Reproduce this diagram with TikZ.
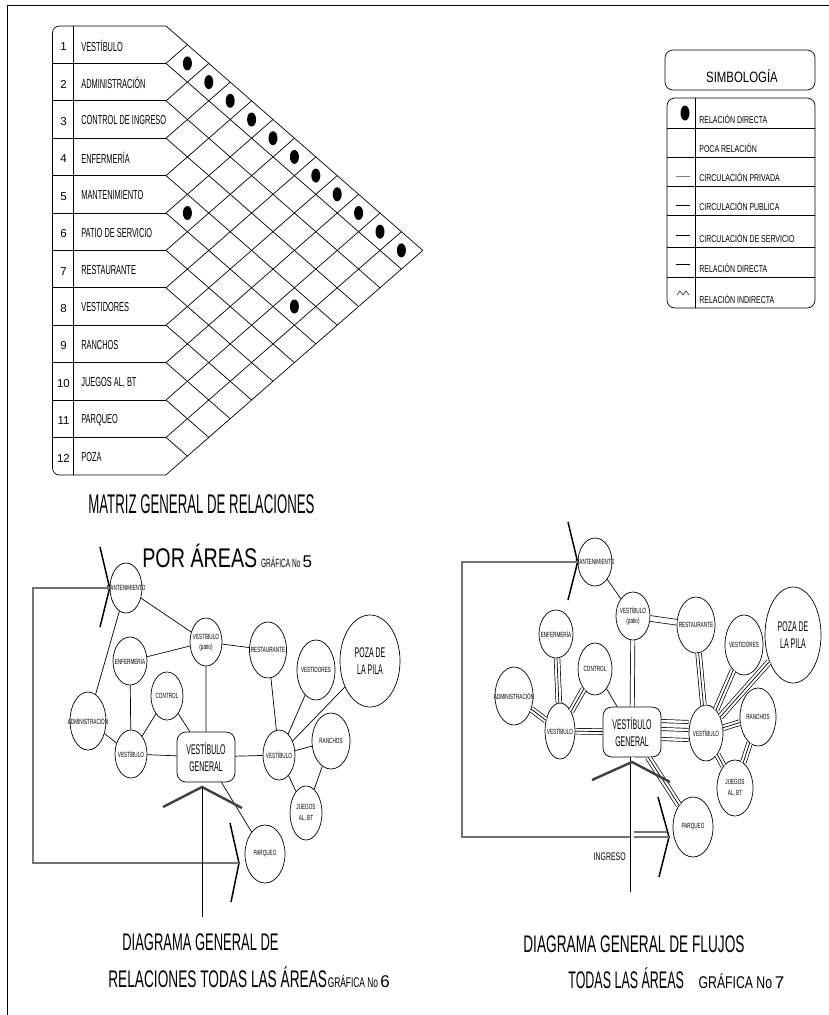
\documentclass[tikz,border=0pt]{standalone}
\usepackage{fontspec,graphicx}
\setmainfont{Liberation Sans}
\usetikzlibrary{shapes.geometric}
\newcommand\fsz[1]{\fontsize{#1}{\fpeval{1.2*#1}}\selectfont}
\newcommand\cz[2][0.62]{\scalebox{#1}[1]{#2}}
\newcommand\inlb[2][0.62]{\makebox[0pt]{\cz[#1]{#2}}}
\tikzset{ar/.style 2 args={draw,ellipse,inner sep=0pt,align=center,font=\fsz{7.5},minimum width=#1pt,minimum height=#2pt},
 vg/.style={draw,rounded corners=9pt,minimum width=58pt,minimum height=50pt,inner sep=0pt,align=center,font=\fsz{14}},
 num/.style={inner sep=0pt,font=\fsz{11.5}},rl/.style={anchor=west,inner sep=0pt,font=\fsz{13}},
 lg/.style={anchor=base west,inner sep=0pt,font=\fsz{10}},ttl/.style={anchor=base west,inner sep=0pt,font=\fsz{24}},
 dbl/.style={double,double distance=3.5pt},trp/.style={preaction={draw,double,double distance=5pt}},
 brk/.style={line width=1.5pt},lp/.style={draw=black!55,line width=1.3pt},ing/.style={line width=2.4pt,draw=black!75}}
\begin{document}
\begin{tikzpicture}[x=1pt,y=-1pt,line width=0.7pt]
\useasboundingbox (0,0) rectangle (829,1015);
\draw (7,1015) -- (7,5) -- (829,5);
\draw[rounded corners=7pt] (166,26) -- (52.5,26) -- (52.5,475) -- (166,475);
\draw (73,26) -- (73,475);
\foreach \k in {1,...,11}{\draw (52.5,{26+37.4*\k}) -- (166,{26+37.4*\k});}
\foreach \k in {0,...,12}{\draw (166,{26+37.4*\k}) -- ++({(12-\k)*21.4},{(12-\k)*18.7}) (166,{26+37.4*\k}) -- ++({\k*21.4},{-\k*18.7});}
\foreach \i/\nm in {1/VESTÍBULO,2/ADMINISTRACIÓN,3/CONTROL DE INGRESO,4/ENFERMERÍA,5/MANTENIMIENTO,6/PATIO DE SERVICIO,7/RESTAURANTE,8/VESTIDORES,9/RANCHOS,10/{JUEGOS AL, BT},11/PARQUEO,12/POZA}
 {\node[num] (n\i) at (63.5,{26+37.4*(\i-0.5)+2}) {\i}; \node[rl] (r\i) at (81,{26+37.4*(\i-0.5)+1}) {\cz[0.57]{\nm}};}
\foreach \i/\j in {1/2,1/3,1/4,1/5,1/6,1/7,1/8,1/9,1/10,1/11,1/12,5/6,5/11} \fill ({166+(\j-\i)*21.4},{26+37.4*((\i+\j)/2-0.5)}) ellipse (4.5 and 7);
\node[ttl,font=\fsz{27}] (t5a) at (88,513) {\cz[0.49]{MATRIZ GENERAL DE RELACIONES}};
\node[ttl,font=\fsz{27}] (t5b) at (142,567) {\cz[0.73]{POR ÁREAS}};
\node[anchor=base west,inner sep=0pt] (t5c) at ([xshift=3pt]t5b.base east) {\fsz{12}\cz[0.55]{GRÁFICA No}\,\fsz{17}5};
\draw[rounded corners=8pt] (665,50) rectangle (815,90);
\node[font=\fsz{15},inner sep=0pt] (simb) at (742,76) {\cz[0.76]{SIMBOLOGÍA}};
\draw[rounded corners=8pt] (667,98) rectangle (815,308);
\draw (695,98) -- (695,308);
\foreach \y in {128,157,186,215,247,277} \draw (667,\y) -- (815,\y);
\foreach \i/\y/\nm in {1/123/RELACIÓN DIRECTA,2/152/POCA RELACIÓN,3/181/CIRCULACIÓN PRIVADA,4/210/CIRCULACIÓN PUBLICA,5/242/CIRCULACIÓN DE SERVICIO,6/272/RELACIÓN DIRECTA,7/303/RELACIÓN INDIRECTA}
 \node[lg] (s\i) at (699,\y) {\cz[0.7]{\nm}};
\fill (685,113) ellipse (4.5 and 7.5);
\draw[black!50] (676,176) -- (690,176);
\foreach \y in {205,235,264} \draw (676,\y) -- (690,\y);
\draw[line width=0.5pt] (677,295) -- (680,291) -- (683,295) -- (686,291) -- (689,295);
\node[ar={32}{50}] (mantA) at (126,588) {\inlb{MANTENIMIENTO}};
\node[ar={32}{48}] (patA) at (206,642) {\inlb{VESTÍBULO}\\[1pt]\inlb{(patio)}};
\node[ar={37}{56}] (restA) at (268,650) {\inlb{RESTAURANTE}};
\node[ar={34}{48}] (enfA) at (130,661) {\inlb{ENFERMERÍA}};
\node[ar={38}{60}] (vestdA) at (316,670) {\inlb{VESTIDORES}};
\node[ar={60}{92},font=\fsz{14}] (pozaA) at (370,661) {\inlb[0.5]{POZA DE}\\\inlb[0.5]{LA PILA}};
\node[ar={32}{48}] (ctrlA) at (167,696) {\inlb{CONTROL}};
\node[ar={36}{58}] (admA) at (88,721) {\inlb{ADMINISTRACIÓN}};
\node[ar={32}{48}] (vlA) at (131,754) {\inlb{VESTÍBULO}};
\node[vg] (vgA) at (206,757) {\inlb[0.5]{VESTÍBULO}\\\inlb[0.5]{GENERAL}};
\node[ar={32}{50}] (vrA) at (279,755) {\inlb{VESTÍBULO}};
\node[ar={38}{56}] (ranA) at (331,741) {\inlb{RANCHOS}};
\node[ar={32}{54}] (juegA) at (306,813) {\inlb{JUEGOS}\\[2pt]\inlb{AL, BT}};
\node[ar={40}{58}] (parqA) at (265,854) {\inlb{PARQUEO}};
\draw (mantA) -- (patA) (mantA) -- (admA) (enfA) -- (patA) (patA) -- (restA) (patA) -- (vgA) (enfA) -- (vlA);
\draw (ctrlA) -- (vlA) (ctrlA) -- (vgA) (admA) -- (vlA) (vlA) -- (vgA) (vgA) -- (vrA) (restA) -- (vrA);
\draw (vestdA) -- (vrA) (pozaA) -- (vrA) (ranA) -- (vrA) (vrA) -- (juegA) (ranA) -- (juegA) (vgA) -- (parqA);
\coordinate (mA1) at (100,547); \coordinate (mA2) at (100,627); \draw[brk] (mA1) -- (mantA.west) -- (mA2);
\coordinate (pA1) at (230,823); \coordinate (pAv) at (239,863); \coordinate (pA2) at (231,902); \draw[brk] (pA1) -- (pAv) -- (pA2);
\coordinate (lA) at (33,863); \draw[lp] (mantA.west) -| (lA) -- (pAv);
\coordinate (iA) at (202,787); \coordinate (iAl) at (163,807); \coordinate (iAr) at (242,808); \coordinate (iAb) at (202,917);
\draw[ing] (iAl) -- (iA) -- (iAr); \draw (iA) -- (iAb);
\node[ar={34}{48}] (mantB) at (595,562) {\inlb{MANTENIMIENTO}};
\node[ar={34}{48}] (patB) at (633,616) {\inlb{VESTÍBULO}\\[1pt]\inlb{(patio)}};
\node[ar={38}{56}] (restB) at (696,625) {\inlb{RESTAURANTE}};
\node[ar={38}{60}] (vestdB) at (744,645) {\inlb{VESTIDORES}};
\node[ar={56}{96},font=\fsz{14}] (pozaB) at (793,635) {\inlb[0.5]{POZA DE}\\\inlb[0.5]{LA PILA}};
\node[ar={34}{48}] (enfB) at (556,634) {\inlb{ENFERMERÍA}};
\node[ar={34}{52}] (ctrlB) at (595,669) {\inlb{CONTROL}};
\node[ar={38}{58}] (admB) at (514,696) {\inlb{ADMINISTRACIÓN}};
\node[ar={30}{56}] (vlB) at (560,731) {\inlb{VESTÍBULO}};
\node[vg] (vgB) at (632,732) {\inlb[0.5]{VESTÍBULO}\\\inlb[0.5]{GENERAL}};
\node[ar={34}{56}] (vrB) at (706,733) {\inlb{VESTÍBULO}};
\node[ar={36}{58}] (ranB) at (758,717) {\inlb{RANCHOS}};
\node[ar={36}{56}] (juegB) at (735,788) {\inlb{JUEGOS}\\[2pt]\inlb{AL, BT}};
\node[ar={40}{60}] (parqB) at (693,827) {\inlb{PARQUEO}};
\draw (mantB) -- (patB) (ctrlB) -- (vgB);
\draw[dbl,double distance=5pt] (patB) -- (restB); \draw[dbl] (patB) -- (vgB);
\draw[trp] (enfB) -- (vlB); \draw[trp] (ctrlB) -- (vlB); \draw[trp] (admB) -- (vlB); \draw[trp] (vlB) -- (vgB);
\draw[trp] (restB) -- (vrB); \draw[trp] (vestdB) -- (vrB); \draw[trp] (pozaB) -- (vrB); \draw[trp] (ranB) -- (vrB);
\draw[trp] (vrB) -- (juegB); \draw[trp] (ranB) -- (juegB); \draw[trp] (vgB) -- (parqB);
\foreach \d in {11,3,-7} \draw[dbl,double distance=2.5pt] ([yshift=\d pt]vgB.east) -- ([yshift=\d pt]vrB.west);
\coordinate (mB1) at (568,522); \coordinate (mB2) at (568,600); \draw[brk] (mB1) -- (mantB.west) -- (mB2);
\coordinate (pB1) at (658,797); \coordinate (pBv) at (669,837); \coordinate (pB2) at (659,877); \draw[brk] (pB1) -- (pBv) -- (pB2);
\coordinate (lB) at (462,837); \draw[lp] (mantB.west) -| (lB) -- (pBv);
\coordinate (lBi) at (634,832); \coordinate (lBe) at (667,832); \draw[lp] (lBi) -- (lBe);
\coordinate (iB) at (632,762); \coordinate (iBl) at (592,780); \coordinate (iBr) at (670,782); \coordinate (iBb) at (632,892);
\draw[dbl,double distance=3pt] (vgB) -- (iBb); \draw[ing] (iBl) -- (iB) -- (iBr);
\node[anchor=east,inner sep=0pt,font=\fsz{11}] (ingr) at (626,857) {\cz[0.63]{INGRESO}};
\node[ttl] (t6a) at (122,950) {\cz[0.54]{DIAGRAMA GENERAL DE}};
\node[ttl] (t6b) at (108,987) {\cz[0.57]{RELACIONES TODAS LAS ÁREAS}};
\node[anchor=base west,inner sep=0pt] (t6c) at (t6b.base east) {\fsz{14}\cz[0.6]{GRÁFICA No}\,\fsz{17}6};
\node[ttl] (t7a) at (523,952) {\cz[0.57]{DIAGRAMA GENERAL DE FLUJOS}};
\node[ttl] (t7b) at (568,988) {\cz[0.52]{TODAS LAS ÁREAS}};
\node[anchor=base west,inner sep=0pt] (t7c) at ([xshift=14pt]t7b.base east) {\fsz{17}\cz[0.72]{GRÁFICA No}\,7};
\end{tikzpicture}
\end{document}
